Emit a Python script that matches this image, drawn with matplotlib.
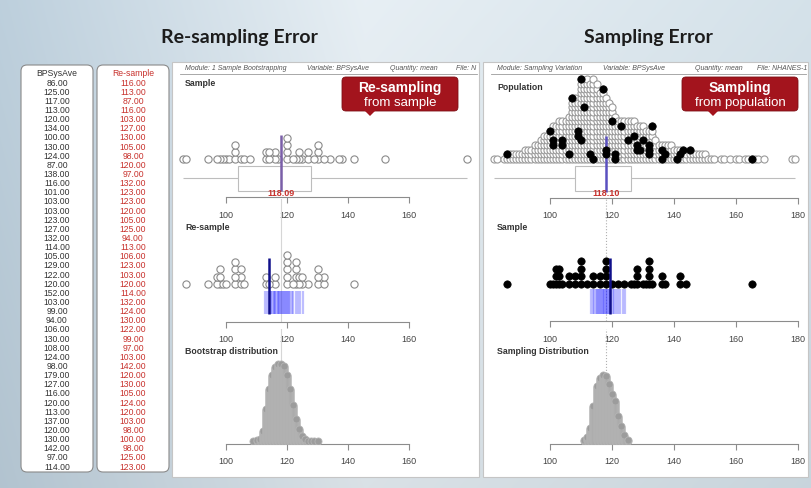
import numpy as np
import matplotlib.pyplot as plt
from matplotlib.patches import FancyBboxPatch, Rectangle, Polygon

plt.rcParams['font.family'] = ['Liberation Sans', 'DejaVu Sans']

W, H = 811, 489

# text columns on the left
bpsysave = [86, 125, 117, 113, 120, 134, 100, 130, 124, 87, 138, 116, 101, 103, 103,
            123, 127, 132, 114, 105, 129, 122, 120, 152, 103, 99, 94, 106, 130, 108,
            124, 98, 179, 127, 116, 120, 113, 137, 120, 130, 142, 97, 114]
resample = [116, 113, 87, 116, 103, 127, 130, 105, 98, 120, 97, 132, 123, 123, 120,
            105, 125, 94, 113, 106, 123, 103, 120, 114, 132, 124, 130, 122, 99, 97,
            103, 142, 120, 130, 105, 124, 120, 103, 98, 100, 98, 125, 123]

# earlier re-sample means (blue band)
left_prev_means = [112.9, 113.5, 114.0, 114.5, 114.9, 115.2, 115.6, 115.8, 116.2, 116.5,
                   116.9, 117.1, 117.4, 117.8, 118.1, 118.3, 118.7, 119.0, 119.2, 119.6,
                   119.9, 120.3, 120.6, 121.0, 121.5, 122.1, 122.8, 123.5, 124.3, 125.2]

# bootstrap distribution (count of means per unit)
boot_x = list(range(109, 131))
boot_counts = [1, 2, 3, 11, 33, 53, 67, 75, 78, 78, 76, 67, 53, 37, 23, 13, 6, 3, 1, 1, 1, 1]

# population (count per value)
pop_vals = [82, 83, 85, 86, 87, 88, 89, 90, 91, 92, 93, 94, 95, 96, 97, 98, 99,
            100, 101, 102, 103, 104, 105, 106, 107, 108, 109, 110, 111, 112, 113, 114,
            115, 116, 117, 118, 119, 120, 121, 122, 123, 124, 125, 126, 127, 128, 129,
            130, 131, 132, 133, 134, 135, 136, 137, 138, 139, 140, 141, 142, 143, 144,
            145, 146, 147, 148, 149, 150, 151, 152, 153, 155, 156, 158, 160, 161, 163,
            164, 165, 166, 167, 169, 178, 179]
pop_counts = [1, 1, 1, 2, 2, 2, 2, 2, 2, 3, 3, 3, 4, 4, 5, 6, 6,
              7, 8, 8, 9, 9, 9, 10, 14, 14, 13, 18, 17, 18, 17, 18,
              17, 15, 16, 14, 13, 12, 10, 9, 9, 9, 9, 9, 9, 8, 8,
              8, 7, 7, 8, 5, 4, 4, 4, 4, 4, 3, 3, 3, 3, 2,
              3, 2, 2, 2, 2, 2, 1, 1, 1, 1, 1, 1, 1, 1, 1,
              1, 1, 1, 1, 1, 1, 1]
pop_mean = 118.10

# population members that were drawn into the sample (value, rank in its stack)
drawn_vals = [86, 100, 101, 101, 104, 104, 106, 107, 109, 109, 110, 110, 111, 113, 114,
              117, 118, 118, 120, 121, 121, 123, 125, 127, 128, 128, 129, 130, 132, 132,
              132, 133, 136, 136, 137, 141, 142, 143, 145, 165]
drawn_rank = [1, 6, 4, 3, 4, 3, 1, 13, 6, 5, 4, 17, 11, 1, 0,
              15, 2, 1, 8, 1, 0, 7, 4, 5, 3, 2, 2, 4, 3, 2,
              1, 7, 0, 2, 1, 0, 1, 2, 2, 0]

# the sample on the right
sample2 = [86, 100, 101, 102, 102, 102, 103, 103, 103, 104, 106, 106, 108, 108, 110,
           110, 110, 110, 112, 114, 114, 116, 116, 118, 118, 118, 118, 120, 122, 124,
           126, 127, 128, 128, 128, 130, 131, 132, 132, 132, 132, 133, 136, 136, 137,
           142, 142, 144, 165]
right_prev_means = [113.2, 113.9, 114.3, 114.8, 115.0, 115.4, 115.7, 116.1, 116.4, 116.6,
                    117.0, 117.3, 117.5, 117.9, 118.2, 118.4, 118.8, 119.1, 119.5, 119.8,
                    120.2, 120.7, 121.3, 121.9, 122.6, 123.4, 124.2]

samp_x = list(range(111, 126))
samp_counts = [2, 5, 14, 36, 56, 64, 67, 66, 58, 48, 41, 26, 16, 7, 2]


fig = plt.figure(figsize=(W / 100, H / 100), dpi=100)
bg = fig.add_axes([0, 0, 1, 1])
bg.set_xlim(0, W)
bg.set_ylim(H, 0)
bg.axis('off')

# backdrop
t = np.linspace(0, 1, W)
row = np.stack([np.interp(t, [0, 0.45, 1], c) for c in
                ([0.72, 0.88, 0.81], [0.79, 0.91, 0.86], [0.84, 0.93, 0.89])], axis=1)
fade = np.linspace(1.03, 0.97, H)[:, None, None]
img = np.clip(row[None, :, :] * fade, 0, 1)
bg.imshow(img, extent=[0, W, H, 0], aspect='auto', zorder=0)

bg.text(239, 38, 'Re-sampling Error', fontsize=14, fontweight='bold',
        family=['Lato', 'DejaVu Sans'], ha='center', va='center', color='#1c1c1c')
bg.text(648, 38, 'Sampling Error', fontsize=14, fontweight='bold',
        family=['Lato', 'DejaVu Sans'], ha='center', va='center', color='#1c1c1c')

# the two text columns
for x0, x1, head, vals, col in [(21, 93, 'BPSysAve', bpsysave, '#333333'),
                                (97, 169, 'Re-sample', resample, '#c8322d')]:
    bg.add_patch(FancyBboxPatch((x0, 66), x1 - x0, 407,
                                boxstyle='round,pad=0,rounding_size=6',
                                fc='white', ec='#8a8a8a', lw=0.8, zorder=2))
    cx = (x0 + x1) / 2
    bg.text(cx, 74, head, fontsize=6.2, ha='center', va='center', color=col, zorder=3)
    step = (467 - 83) / (len(vals) - 1)
    for i, v in enumerate(vals):
        bg.text(cx, 83 + i * step, f'{v:.2f}', fontsize=6.2, ha='center',
                va='center', color=col, zorder=3)

# white panels
for x0, x1 in [(172, 479), (483, 808)]:
    bg.add_patch(Rectangle((x0, 63), x1 - x0, 415, fc='white', ec='#c5c5c5',
                           lw=0.8, zorder=1))
    bg.plot([x0 + 8, x1 - 2], [75, 75], color='#9a9a9a', lw=0.6, zorder=2)

hdr = dict(fontsize=5, style='italic', color='#555555', va='center', zorder=3)
for x, s in [(185, 'Module: 1 Sample Bootstrapping'), (307, 'Variable: BPSysAve'),
             (390, 'Quantity: mean'), (456, 'File: N')]:
    bg.text(x, 69, s, **hdr)
for x, s in [(497, 'Module: Sampling Variation'), (603, 'Variable: BPSysAve'),
             (695, 'Quantity: mean'), (757, 'File: NHANES-1')]:
    bg.text(x, 69, s, **hdr)

lab = dict(fontsize=6.3, fontweight='bold', color='#333333', va='center', zorder=3)
for x, y, s in [(185, 83, 'Sample'), (185, 228, 'Re-sample'),
                (185, 351, 'Bootstrap distribution'), (497, 87, 'Population'),
                (497, 227, 'Sample'), (497, 351, 'Sampling Distribution')]:
    bg.text(x, y, s, **lab)


def callout(x0, x1, tip, line1, line2):
    bg.add_patch(FancyBboxPatch((x0, 78), x1 - x0, 34,
                                boxstyle='round,pad=0,rounding_size=4',
                                fc='#a3141d', ec='#7d0f15', lw=0.6, zorder=4))
    bg.add_patch(Polygon([(tip - 6, 111), (tip + 6, 111), (tip, 117)],
                         fc='#a3141d', ec='none', zorder=4))
    cx = (x0 + x1) / 2
    bg.text(cx, 88, line1, fontsize=10, fontweight='bold', color='white',
            ha='center', va='center', zorder=5)
    bg.text(cx, 103, line2, fontsize=9.5, color='white', ha='center',
            va='center', zorder=5)


callout(342, 458, 370, 'Re-sampling', 'from sample')
callout(682, 798, 713, 'Sampling', 'from population')


def px_axes(x0, y0, x1, y1, xlim):
    ax = fig.add_axes([x0 / W, 1 - y1 / H, (x1 - x0) / W, (y1 - y0) / H])
    ax.set_xlim(*xlim)
    ax.set_ylim(0, y1 - y0)
    ax.patch.set_alpha(0)
    for s in ['top', 'right', 'left']:
        ax.spines[s].set_visible(False)
    ax.set_yticks([])
    return ax


def x_axis(ax, ticks):
    ax.spines['bottom'].set_bounds(ticks[0], ticks[-1])
    ax.spines['bottom'].set_color('#8c8c8c')
    ax.spines['bottom'].set_linewidth(0.8)
    ax.set_xticks(ticks)
    ax.tick_params(axis='x', direction='out', length=4, width=0.8, color='#8c8c8c',
                   labelsize=6.5, labelcolor='#444444', pad=5)


def stack_levels(values):
    seen = {}
    lv = []
    for v in values:
        lv.append(seen.get(v, 0))
        seen[v] = seen.get(v, 0) + 1
    return np.array(lv)


def pile(ax, xs, counts, size, face, edge, base=3.0, step=1.0, lw=0.6):
    px, py = [], []
    for x, c in zip(xs, counts):
        for k in range(c):
            px.append(x)
            py.append(base + k * step)
    ax.scatter(px, py, s=size, facecolor=face, edgecolor=edge, linewidths=lw, zorder=3)


def boxplot(ax, vals, mean, yc, mean_col, label):
    q1, q3 = np.percentile(vals, [25, 75])
    ax.hlines(yc, min(vals), max(vals), color='#bdbdbd', lw=0.8, zorder=1)
    ax.add_patch(Rectangle((q1, yc - 12.5), q3 - q1, 25, fc='white', ec='#bdbdbd',
                           lw=0.8, zorder=2))
    ax.vlines(mean, 6, 62, color=mean_col, lw=1.8, zorder=4)
    ax.text(mean, 5, label, color='#c8322d', fontsize=6.5, fontweight='bold',
            ha='center', va='center', zorder=5)


LX = (82.3, 182.6)
RX = (78.7, 183.2)

# ---- left: sample ----
a1 = px_axes(172, 70, 478, 198, LX)
x_axis(a1, [100, 120, 140, 160])
s_mean = np.mean(bpsysave)
boxplot(a1, bpsysave, s_mean, 19, '#7a5fa8', f'{s_mean:.2f}')
a1.scatter(bpsysave, 38 + stack_levels(bpsysave) * 7, s=27, facecolor='white',
           edgecolor='#8a8a8a', linewidths=0.8, zorder=3)

# ---- left: re-sample ----
a2 = px_axes(172, 200, 478, 323, LX)
x_axis(a2, [100, 120, 140, 160])
a2.axvline(s_mean, color='#d6d6d6', lw=0.8, zorder=0)
a2.vlines(left_prev_means, 8, 31, color='#2a2aff', alpha=0.3, lw=1.6, zorder=2)
r_mean = np.mean(resample)
a2.vlines(r_mean, 8, 64, color='#10108a', lw=1.8, zorder=4)
a2.scatter(resample, 38 + stack_levels(resample) * 7.3, s=27, facecolor='white',
           edgecolor='#8a8a8a', linewidths=0.8, zorder=3)

# ---- left: bootstrap distribution ----
a3 = px_axes(172, 330, 478, 445, LX)
x_axis(a3, [100, 120, 140, 160])
a3.axvline(s_mean, color='#d6d6d6', lw=0.8, zorder=0)
pile(a3, boot_x, boot_counts, 26, '#9c9c9c', '#b4b4b4')

# ---- right: population ----
p1 = px_axes(484, 72, 808, 199, RX)
x_axis(p1, [100, 120, 140, 160, 180])
pop_all = np.repeat(pop_vals, pop_counts)
boxplot(p1, pop_all, pop_mean, 20, '#5a50c0', f'{pop_mean:.2f}')
pile(p1, pop_vals, pop_counts, 26, 'white', '#9a9a9a', base=39, step=4.7, lw=0.8)
p1.scatter(drawn_vals, 39 + np.array(drawn_rank) * 4.7, s=28, facecolor='black',
           edgecolor='black', linewidths=0.5, zorder=4)

# ---- right: sample ----
p2 = px_axes(484, 200, 808, 322, RX)
x_axis(p2, [100, 120, 140, 160, 180])
p2.axvline(pop_mean, color='#b0b0b0', lw=0.8, ls=':', zorder=0)
p2.vlines(right_prev_means, 7, 32, color='#2a2aff', alpha=0.3, lw=1.6, zorder=2)
p2.vlines(np.mean(sample2), 7, 63, color='#10108a', lw=1.8, zorder=4)
p2.scatter(sample2, 37 + stack_levels(sample2) * 7.6, s=28, facecolor='black',
           edgecolor='black', linewidths=0.5, zorder=3)

# ---- right: sampling distribution ----
p3 = px_axes(484, 330, 808, 445, RX)
x_axis(p3, [100, 120, 140, 160, 180])
p3.axvline(pop_mean, color='#b0b0b0', lw=0.8, ls=':', zorder=0)
pile(p3, samp_x, samp_counts, 26, '#9c9c9c', '#b4b4b4')

fig.savefig('out.png', dpi=100)
